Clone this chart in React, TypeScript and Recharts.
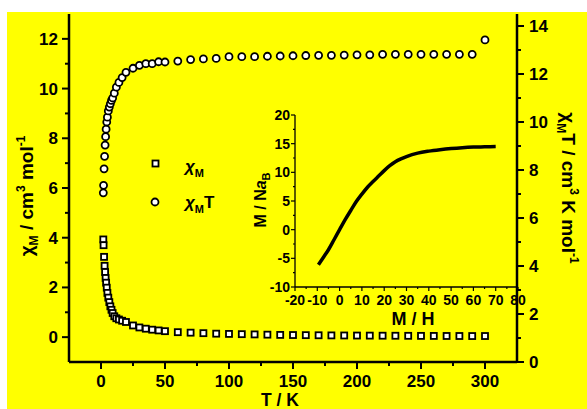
import React from 'react';
import {
  ComposedChart,
  Scatter,
  LineChart,
  Line,
  XAxis,
  YAxis,
} from 'recharts';

// Temperature points (K)
const temps = [
  1.8, 2.0, 2.4, 2.8, 3.2, 3.6, 4.0, 4.5, 5.0, 5.7, 6.5, 7.3, 8.2, 9.1, 10.4, 12.0, 14.0, 16.5, 19.5,
  25, 30, 35, 40, 45, 50, 60, 70, 80, 90, 100, 110, 120, 130, 140, 150, 160, 170, 180, 190, 200,
  210, 220, 230, 240, 250, 260, 270, 280, 290, 300,
];

// chi_M, cm3 mol-1 (left axis, squares)
const chiM = [
  3.93, 3.7, 3.23, 2.87, 2.62, 2.38, 2.19, 1.99, 1.78, 1.59, 1.41, 1.24, 1.1, 0.97, 0.84, 0.76, 0.71,
  0.66, 0.61, 0.47, 0.39, 0.34, 0.3, 0.27, 0.24, 0.2, 0.18, 0.16, 0.14, 0.13, 0.12, 0.11, 0.1, 0.09,
  0.085, 0.08, 0.075, 0.07, 0.067, 0.064, 0.061, 0.058, 0.056, 0.053, 0.051, 0.049, 0.047, 0.046,
  0.044, 0.045,
];

// chi_M T, cm3 K mol-1 (right axis, circles)
const chiMT = [
  7.05, 7.36, 8.05, 8.57, 9.04, 9.39, 9.7, 10.0, 10.2, 10.46, 10.62, 10.76, 10.9, 11.0, 11.2, 11.45,
  11.65, 11.85, 12.07, 12.24, 12.36, 12.43, 12.43, 12.51, 12.5, 12.54, 12.6, 12.63, 12.65, 12.72,
  12.72, 12.72, 12.74, 12.75, 12.76, 12.77, 12.78, 12.78, 12.79, 12.8, 12.8, 12.82, 12.82, 12.82,
  12.82, 12.82, 12.82, 12.82, 12.82, 13.42,
];

// inset curve
const insetH = [
  -9.5, -7, -5, -2.5, 0, 2.5, 5, 7.5, 10, 12.5, 15, 17.5, 20, 22.5, 25, 27.5, 30, 35, 40, 45, 50, 55,
  60, 65, 70,
];
const insetM = [
  -6.13, -4.67, -3.5, -1.76, 0.0, 1.74, 3.35, 4.9, 6.2, 7.4, 8.4, 9.35, 10.3, 11.15, 11.85, 12.35,
  12.75, 13.35, 13.7, 13.95, 14.15, 14.3, 14.4, 14.45, 14.5,
];

const xTicks = [0, 25, 50, 75, 100, 125, 150, 175, 200, 225, 250, 275, 300];
const leftTicks = [0, 1, 2, 3, 4, 5, 6, 7, 8, 9, 10, 11, 12];
const rightTicks = [0, 1, 2, 3, 4, 5, 6, 7, 8, 9, 10, 11, 12, 13, 14];
const insetXTicks = [-20, -15, -10, -5, 0, 5, 10, 15, 20, 25, 30, 35, 40, 45, 50, 55, 60, 65, 70, 75, 80];
const insetYTicks = [-10, -7.5, -5, -2.5, 0, 2.5, 5, 7.5, 10, 12.5, 15, 17.5, 20];

const FONT = '"Liberation Sans", Arial, sans-serif';

const data = temps.map((t, i) => ({ t, chi: chiM[i], chiT: chiMT[i] }));
const insetData = insetH.map((h, i) => ({ h, m: insetM[i] }));

const BottomTick = ({ x, y, payload }: any) => {
  const major = payload.value % 50 === 0;
  return (
    <g>
      <line x1={x} x2={x} y1={y} y2={y + (major ? 7 : 4)} stroke="#000" strokeWidth={2} />
      {major && (
        <text x={x} y={y + 25} textAnchor="middle" fontSize={17} fontWeight="bold" fontFamily={FONT} fill="#000">
          {payload.value}
        </text>
      )}
    </g>
  );
};

const TopTick = ({ x, y }: any) => (
  <line x1={x} x2={x} y1={y} y2={y + 5} stroke="#000" strokeWidth={2} />
);

const LeftTick = ({ x, y, payload }: any) => {
  const major = payload.value % 2 === 0;
  return (
    <g>
      <line x1={x - (major ? 7 : 4)} x2={x} y1={y} y2={y} stroke="#000" strokeWidth={2} />
      {major && (
        <text x={x - 11} y={y + 6} textAnchor="end" fontSize={17} fontWeight="bold" fontFamily={FONT} fill="#000">
          {payload.value}
        </text>
      )}
    </g>
  );
};

const RightTick = ({ x, y, payload }: any) => {
  const major = payload.value % 2 === 0;
  return (
    <g>
      <line x1={x} x2={x + (major ? 7 : 4)} y1={y} y2={y} stroke="#000" strokeWidth={2} />
      {major && (
        <text x={x + 12} y={y + 6} textAnchor="start" fontSize={17} fontWeight="bold" fontFamily={FONT} fill="#000">
          {payload.value}
        </text>
      )}
    </g>
  );
};

const InsetBottomTick = ({ x, y, payload }: any) => {
  const major = payload.value % 10 === 0;
  return (
    <g>
      <line x1={x} x2={x} y1={y} y2={y + (major ? 4 : 2)} stroke="#000" strokeWidth={1.2} />
      {major && (
        <text x={x} y={y + 18} textAnchor="middle" fontSize={14} fontWeight="bold" fontFamily={FONT} fill="#000">
          {payload.value}
        </text>
      )}
    </g>
  );
};

const InsetLeftTick = ({ x, y, payload }: any) => {
  const major = payload.value % 5 === 0;
  return (
    <g>
      <line x1={x - (major ? 4 : 2)} x2={x} y1={y} y2={y} stroke="#000" strokeWidth={1.2} />
      {major && (
        <text x={x - 5} y={y + 5} textAnchor="end" fontSize={14} fontWeight="bold" fontFamily={FONT} fill="#000">
          {payload.value}
        </text>
      )}
    </g>
  );
};

const SquareDot = (props: any) => (
  <rect x={props.cx - 3} y={props.cy - 3} width={6} height={6} fill="#fff" stroke="#000" strokeWidth={1.8} />
);

const CircleDot = (props: any) => (
  <circle cx={props.cx} cy={props.cy} r={3.5} fill="#fff" stroke="#000" strokeWidth={1.8} />
);

const axisStroke = { stroke: '#000', strokeWidth: 2.5 };

export default function App() {
  return (
    <div style={{ position: 'absolute', left: 0, top: 0, width: 587, height: 409, background: '#fff', fontFamily: FONT }}>
      <div style={{ position: 'absolute', left: 7, top: 12, width: 580, height: 397, background: '#ffff00' }} />

      {/* main chart: chi_M and chi_M T vs T */}
      <div style={{ position: 'absolute', left: 0, top: 0 }}>
        <ComposedChart width={587} height={409} data={data} margin={{ top: 14, right: 10, bottom: 7, left: 9 }}>
          <XAxis
            dataKey="t"
            type="number"
            domain={[-25, 325]}
            ticks={xTicks}
            interval={0}
            height={40}
            tickSize={0}
            tickMargin={0}
            tickLine={false}
            tick={<BottomTick />}
            axisLine={axisStroke}
          />
          <XAxis
            xAxisId="top"
            orientation="top"
            dataKey="t"
            type="number"
            domain={[-25, 325]}
            ticks={xTicks}
            interval={0}
            height={0}
            tickSize={0}
            tickMargin={0}
            tickLine={false}
            tick={<TopTick />}
            axisLine={axisStroke}
          />
          <YAxis
            yAxisId="left"
            type="number"
            domain={[-1, 13]}
            ticks={leftTicks}
            interval={0}
            width={60}
            tickSize={0}
            tickMargin={0}
            tickLine={false}
            tick={<LeftTick />}
            axisLine={axisStroke}
          />
          <YAxis
            yAxisId="right"
            orientation="right"
            type="number"
            domain={[0, 14.5]}
            ticks={rightTicks}
            interval={0}
            width={60}
            tickSize={0}
            tickMargin={0}
            tickLine={false}
            tick={<RightTick />}
            axisLine={axisStroke}
          />
          <Scatter yAxisId="left" dataKey="chi" shape={SquareDot} isAnimationActive={false} />
          <Scatter yAxisId="right" dataKey="chiT" shape={CircleDot} isAnimationActive={false} />
        </ComposedChart>
      </div>

      {/* inset: M vs H */}
      <div style={{ position: 'absolute', left: 230, top: 100 }}>
        <LineChart width={300} height={230} data={insetData} margin={{ top: 15, right: 12, bottom: 13, left: 5 }}>
          <XAxis
            dataKey="h"
            type="number"
            domain={[-20, 80]}
            ticks={insetXTicks}
            interval={0}
            height={30}
            tickSize={0}
            tickMargin={0}
            tickLine={false}
            tick={<InsetBottomTick />}
            axisLine={{ stroke: '#000', strokeWidth: 1.3 }}
          />
          <XAxis
            xAxisId="top"
            orientation="top"
            dataKey="h"
            type="number"
            domain={[-20, 80]}
            height={0}
            tick={false}
            tickLine={false}
            axisLine={{ stroke: '#000', strokeWidth: 1.3 }}
          />
          <YAxis
            type="number"
            domain={[-10, 20]}
            ticks={insetYTicks}
            interval={0}
            width={60}
            tickSize={0}
            tickMargin={0}
            tickLine={false}
            tick={<InsetLeftTick />}
            axisLine={{ stroke: '#000', strokeWidth: 1.3 }}
          />
          <Line
            dataKey="m"
            type="monotone"
            stroke="#000"
            strokeWidth={3.5}
            dot={false}
            isAnimationActive={false}
          />
        </LineChart>
      </div>

      {/* titles and legend */}
      <svg width={587} height={409} style={{ position: 'absolute', left: 0, top: 0, pointerEvents: 'none' }}>
        <g fontFamily={FONT} fontWeight="bold" fill="#000">
          <text x={280} y={406} textAnchor="middle" fontSize={17.5}>T / K</text>
          <text transform="translate(33,196) rotate(-90)" textAnchor="middle" fontSize={19}>
            <tspan>χ</tspan>
            <tspan fontSize={12} dy={5}>M</tspan>
            <tspan dy={-5}> / cm</tspan>
            <tspan fontSize={12} dy={-8}>3</tspan>
            <tspan dy={8}> mol</tspan>
            <tspan fontSize={12} dy={-8}>-1</tspan>
          </text>
          <text transform="translate(562,188) rotate(90)" textAnchor="middle" fontSize={19}>
            <tspan>χ</tspan>
            <tspan fontSize={12} dy={5}>M</tspan>
            <tspan dy={-5}>T / cm</tspan>
            <tspan fontSize={12} dy={-8}>3</tspan>
            <tspan dy={8}> K mol</tspan>
            <tspan fontSize={12} dy={-8}>-1</tspan>
          </text>
          <text x={413} y={325} textAnchor="middle" fontSize={18}>M / H</text>
          <text transform="translate(266,200) rotate(-90)" textAnchor="middle" fontSize={16}>
            <tspan>M / N</tspan>
            <tspan fontStyle="italic">a</tspan>
            <tspan fontSize={11} dy={4}>B</tspan>
          </text>
          {/* legend */}
          <rect x={152.5} y={160.5} width={6} height={6} fill="#fff" stroke="#000" strokeWidth={1.8} />
          <text x={185} y={172} fontSize={17}>
            <tspan fontStyle="italic">χ</tspan>
            <tspan fontSize={11} dy={5}>M</tspan>
          </text>
          <circle cx={155} cy={202} r={3.5} fill="#fff" stroke="#000" strokeWidth={1.8} />
          <text x={185} y={208} fontSize={17}>
            <tspan fontStyle="italic">χ</tspan>
            <tspan fontSize={11} dy={5}>M</tspan>
            <tspan dy={-5}>T</tspan>
          </text>
        </g>
      </svg>
    </div>
  );
}
